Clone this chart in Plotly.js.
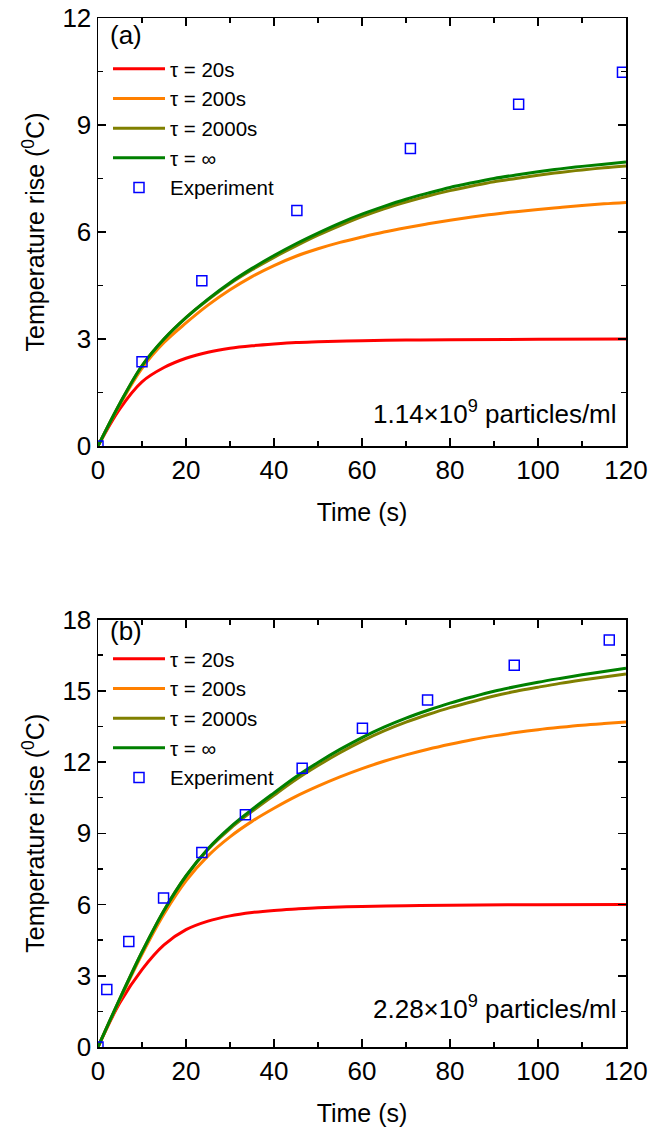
<!DOCTYPE html>
<html>
<head>
<meta charset="utf-8">
<script src="https://cdn.plot.ly/plotly-3.0.1.min.js"></script>
<style>html,body{margin:0;padding:0;background:#fff;}#chart{width:652px;height:1132px;}</style>
</head>
<body>
<div id="chart"></div>
<script>
// ---------- Data ----------
const seriesNames = ['\u03c4 = 20s', '\u03c4 = 200s', '\u03c4 = 2000s', '\u03c4 = \u221e', 'Experiment'];

// Panel (a): 1.14x10^9 particles/ml
const a_t_red = [0, 5, 10, 15, 20, 25, 30, 35, 40, 45, 50, 60, 70, 80, 100, 120];
const a_T_red = [0, 1.05, 1.8, 2.2, 2.46, 2.63, 2.74, 2.81, 2.86, 2.9, 2.92, 2.95, 2.97, 2.98, 2.99, 3.0];

const a_t_curve = [0, 5, 10, 15, 20, 25, 30, 35, 40, 45, 50, 55, 60, 65, 70, 75, 80, 85, 90, 95, 100, 105, 110, 115, 120];
const a_T_orange = [0, 1.17, 2.18, 2.9, 3.45, 3.95, 4.38, 4.75, 5.06, 5.32, 5.53, 5.71, 5.86, 6.0, 6.12, 6.23, 6.33, 6.42, 6.5, 6.57, 6.63, 6.69, 6.74, 6.79, 6.83];
const a_T_olive  = [0, 1.2, 2.25, 3.0, 3.6, 4.1, 4.55, 4.94, 5.29, 5.61, 5.91, 6.18, 6.43, 6.65, 6.84, 7.01, 7.16, 7.29, 7.41, 7.5, 7.59, 7.67, 7.74, 7.8, 7.85];
const a_T_green  = [0, 1.2, 2.25, 3.0, 3.6, 4.12, 4.58, 4.98, 5.34, 5.67, 5.97, 6.25, 6.5, 6.72, 6.92, 7.09, 7.25, 7.38, 7.5, 7.6, 7.69, 7.77, 7.84, 7.9, 7.96];

const a_t_exp = [0, 10, 23.6, 45.2, 71, 95.6, 119.2];
const a_T_exp = [0, 2.36, 4.63, 6.6, 8.34, 9.58, 10.48];

// Panel (b): 2.28x10^9 particles/ml
const b_t_red = [0, 5, 10, 15, 20, 25, 30, 35, 40, 45, 50, 60, 70, 80, 100, 120];
const b_T_red = [0, 1.87, 3.26, 4.3, 4.94, 5.3, 5.52, 5.66, 5.75, 5.81, 5.86, 5.92, 5.95, 5.97, 5.99, 6.0];

const b_t_curve = [0, 5, 10, 15, 20, 25, 30, 35, 40, 45, 50, 55, 60, 65, 70, 75, 80, 85, 90, 95, 100, 105, 110, 115, 120];
const b_T_orange = [0, 2.0, 3.9, 5.6, 7.0, 8.05, 8.85, 9.5, 10.05, 10.55, 10.98, 11.37, 11.72, 12.03, 12.3, 12.54, 12.75, 12.94, 13.1, 13.24, 13.36, 13.46, 13.55, 13.62, 13.68];
const b_T_olive  = [0, 2.05, 4.0, 5.75, 7.2, 8.32, 9.19, 9.92, 10.6, 11.26, 11.85, 12.39, 12.88, 13.31, 13.68, 14.0, 14.29, 14.54, 14.78, 14.98, 15.15, 15.31, 15.45, 15.58, 15.71];
const b_T_green  = [0, 2.05, 4.0, 5.75, 7.2, 8.35, 9.25, 10.0, 10.7, 11.38, 11.98, 12.53, 13.03, 13.47, 13.85, 14.18, 14.48, 14.74, 14.98, 15.18, 15.36, 15.52, 15.67, 15.81, 15.95];

const b_t_exp = [0, 2.0, 7.0, 14.9, 23.6, 33.5, 46.4, 60.1, 74.9, 94.6, 116.2];
const b_T_exp = [0, 2.42, 4.44, 6.27, 8.19, 9.78, 11.74, 13.42, 14.61, 16.07, 17.14];

const xTicks = [0, 20, 40, 60, 80, 100, 120];
const a_yTicks = [0, 3, 6, 9, 12];
const b_yTicks = [0, 3, 6, 9, 12, 15, 18];
const panelLabels = ['(a)', '(b)'];
const concLabels = ['1.14\u00d710<sup>9</sup> particles/ml', '2.28\u00d710<sup>9</sup> particles/ml'];

// ---------- Styling ----------
const colors = ['#ff0000', '#ff8000', '#808000', '#008000', '#0000ff'];
const FONT = 'Liberation Sans, Arial, sans-serif';
const W = 652, H = 1132;
const M = {l: 98, r: 26, t: 18, b: 85};
const fx = px => (px - M.l) / (W - M.l - M.r);
const fy = py => (H - M.b - py) / (H - M.t - M.b);

function lineTrace(x, y, i, xa, ya, leg) {
  return {x: x, y: y, type: 'scatter', mode: 'lines', name: seriesNames[i],
    line: {color: colors[i], width: 3, shape: 'spline', smoothing: 1},
    xaxis: xa, yaxis: ya, legend: leg, legendgroup: leg + i};
}
function expTrace(x, y, xa, ya, leg) {
  return {x: x, y: y, type: 'scatter', mode: 'markers', name: seriesNames[4],
    marker: {symbol: 'square-open', size: 10, color: colors[4], line: {width: 1.5}},
    xaxis: xa, yaxis: ya, legend: leg, legendgroup: leg + 4};
}

const traces = [
  lineTrace(a_t_red, a_T_red, 0, 'x', 'y', 'legend'),
  lineTrace(a_t_curve, a_T_orange, 1, 'x', 'y', 'legend'),
  lineTrace(a_t_curve, a_T_olive, 2, 'x', 'y', 'legend'),
  lineTrace(a_t_curve, a_T_green, 3, 'x', 'y', 'legend'),
  expTrace(a_t_exp, a_T_exp, 'x', 'y', 'legend'),
  lineTrace(b_t_red, b_T_red, 0, 'x2', 'y2', 'legend2'),
  lineTrace(b_t_curve, b_T_orange, 1, 'x2', 'y2', 'legend2'),
  lineTrace(b_t_curve, b_T_olive, 2, 'x2', 'y2', 'legend2'),
  lineTrace(b_t_curve, b_T_green, 3, 'x2', 'y2', 'legend2'),
  expTrace(b_t_exp, b_T_exp, 'x2', 'y2', 'legend2')
];

function xAxis(anchor) {
  return {anchor: anchor, domain: [0, 1], range: [0, 120], tickvals: xTicks,
    ticks: 'inside', ticklen: 8, tickwidth: 1.5, tickcolor: '#000',
    minor: {dtick: 10, tick0: 0, ticks: 'inside', ticklen: 5, tickwidth: 1.5, tickcolor: '#000'},
    showline: true, linecolor: '#000', linewidth: 1.5, mirror: 'ticks',
    showgrid: false, zeroline: false, automargin: false,
    tickfont: {family: FONT, size: 26, color: '#000'},
    title: {text: 'Time (s)', font: {family: FONT, size: 25, color: '#000'}, standoff: 20}};
}
function yAxis(anchor, domain, maxv, ticks) {
  return {anchor: anchor, domain: domain, range: [0, maxv], tickvals: ticks,
    ticks: 'inside', ticklen: 8, tickwidth: 1.5, tickcolor: '#000',
    minor: {dtick: 1.5, tick0: 0, ticks: 'inside', ticklen: 5, tickwidth: 1.5, tickcolor: '#000'},
    showline: true, linecolor: '#000', linewidth: 1.5, mirror: 'ticks',
    showgrid: false, zeroline: false, automargin: false,
    tickfont: {family: FONT, size: 26, color: '#000'},
    title: {text: 'Temperature rise (<sup>0</sup>C)', font: {family: FONT, size: 25, color: '#000'}, standoff: 10}};
}

const legendBase = {bgcolor: 'rgba(0,0,0,0)', borderwidth: 0, font: {family: FONT, size: 20.5, color: '#000'},
  xanchor: 'left', yanchor: 'top', tracegroupgap: 0, itemclick: false, itemwidth: 52};

const layout = {
  width: W, height: H, margin: M, paper_bgcolor: '#fff', plot_bgcolor: '#fff',
  showlegend: true,
  xaxis: xAxis('y'), yaxis: yAxis('x', [fy(446), 1], 12, a_yTicks),
  xaxis2: xAxis('y2'), yaxis2: yAxis('x2', [0, fy(619.5)], 18, b_yTicks),
  legend: Object.assign({}, legendBase, {x: fx(108), y: fy(49)}),
  legend2: Object.assign({}, legendBase, {x: fx(108), y: fy(639)}),
  annotations: [
    {text: panelLabels[0], xref: 'paper', yref: 'paper', x: fx(108), y: fy(35), xanchor: 'left', yanchor: 'middle', showarrow: false, font: {family: FONT, size: 26, color: '#000'}},
    {text: panelLabels[1], xref: 'paper', yref: 'paper', x: fx(108), y: fy(631), xanchor: 'left', yanchor: 'middle', showarrow: false, font: {family: FONT, size: 26, color: '#000'}},
    {text: concLabels[0], xref: 'paper', yref: 'paper', x: fx(619), y: fy(413), xanchor: 'right', yanchor: 'middle', showarrow: false, font: {family: FONT, size: 26, color: '#000'}},
    {text: concLabels[1], xref: 'paper', yref: 'paper', x: fx(619), y: fy(1007), xanchor: 'right', yanchor: 'middle', showarrow: false, font: {family: FONT, size: 26, color: '#000'}}
  ]
};

Plotly.newPlot('chart', traces, layout, {staticPlot: true, displayModeBar: false});
</script>
</body>
</html>
